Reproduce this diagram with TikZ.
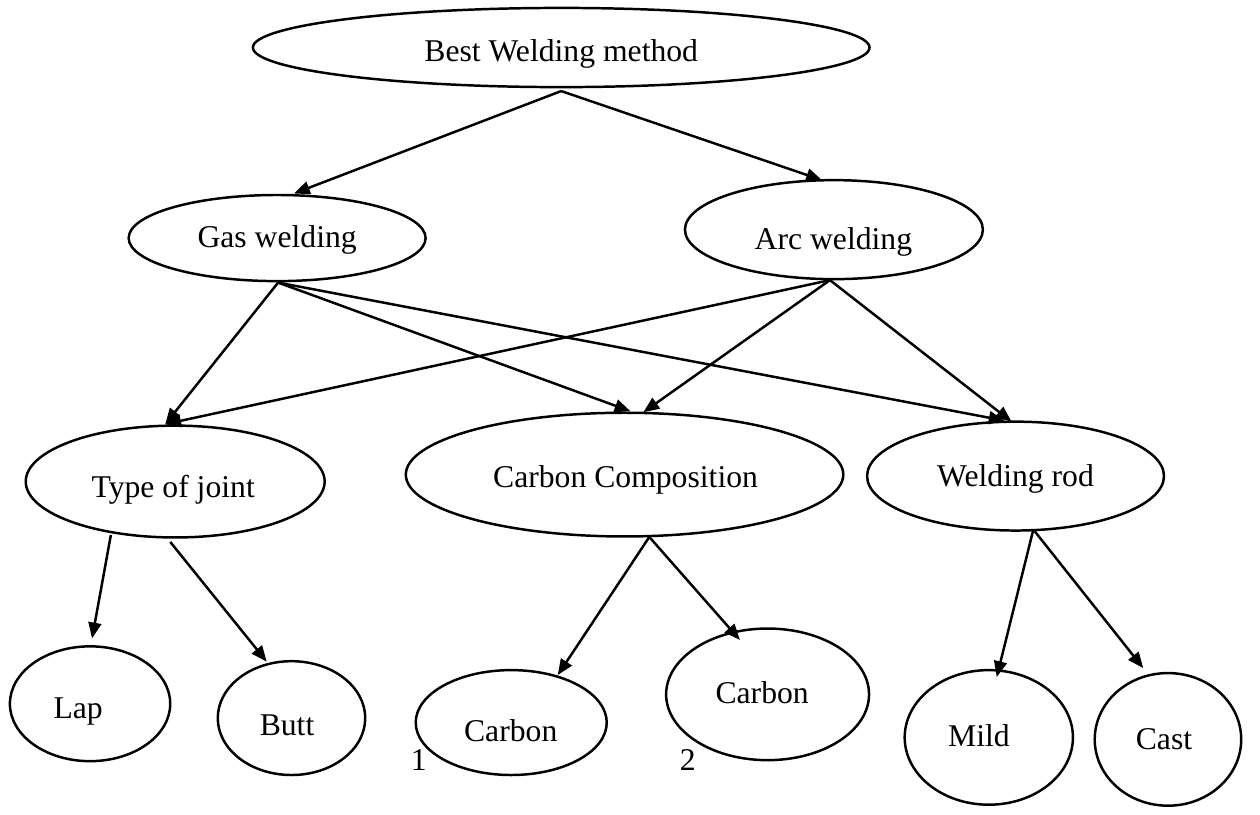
\documentclass[tikz,border=0pt]{standalone}
\usepackage{fontspec}
\setmainfont{Liberation Serif}
\usetikzlibrary{shapes.geometric,arrows.meta,calc}
\begin{document}
\begin{tikzpicture}[x=1pt,y=-1pt,
  ell/.style={draw,line width=2.5pt,ellipse,inner sep=0pt},
  lbl/.style={inner sep=0pt,anchor=base,font=\fontsize{32}{38}\selectfont},
  arr/.style={line width=2.5pt,-{Triangle[length=16pt,width=13pt]}}]
\useasboundingbox (0,0) rectangle (1273,823);
% ellipses
\node[ell,minimum width=623pt,minimum height=80pt] (top) at (567,48) {};
\node[ell,minimum width=300pt,minimum height=87pt] (gas) at (280,240.5) {};
\node[ell,minimum width=301pt,minimum height=100pt] (arc) at (842.5,232) {};
\node[ell,minimum width=302pt,minimum height=113pt] (tj) at (177,486.5) {};
\node[ell,minimum width=442pt,minimum height=125pt] (cc) at (631,479.5) {};
\node[ell,minimum width=300pt,minimum height=110pt] (wr) at (1026,481) {};
\node[ell,minimum width=162pt,minimum height=116pt] (lap) at (91,711) {};
\node[ell,minimum width=149pt,minimum height=115pt] (butt) at (294.5,725.5) {};
\node[ell,minimum width=193pt,minimum height=106pt] (c1) at (516.5,730) {};
\node[ell,minimum width=205pt,minimum height=133pt] (c2) at (775.5,701.5) {};
\node[ell,minimum width=170pt,minimum height=136pt] (mild) at (999,745) {};
\node[ell,minimum width=148pt,minimum height=134pt] (cast) at (1180,747) {};
% labels
\node[lbl] (ttop) at (567,62) {Best Welding method};
\node[lbl] (tgas) at (280,250) {Gas welding};
\node[lbl] (tarc) at (842,252) {Arc welding};
\node[lbl] (ttj) at (175,503) {Type of joint};
\node[lbl] (tcc) at (632,493) {Carbon Composition};
\node[lbl] (twr) at (1026,492) {Welding rod};
\node[lbl] (tlap) at (79,726) {Lap};
\node[lbl] (tbutt) at (290,743) {Butt};
\node[lbl] (tc1) at (516,749) {Carbon};
\node[lbl] (tc2) at (770,711) {Carbon};
\node[lbl] (tmild) at (989,754) {Mild};
\node[lbl] (tcast) at (1176,757) {Cast};
\node[lbl] (n1) at (423,778) {1};
\node[lbl] (n2) at (695,778) {2};
% arrows
\draw[arr] ($(top.center)+(0,44)$) -- ($(gas.center)+(17,-45)$);
\draw[arr] ($(top.center)+(0,44)$) -- ($(arc.center)+(-12,-50)$);
\draw[arr] ($(gas.center)+(1,45)$) -- ($(tj.center)+(-10,-58)$);
\draw[arr] ($(gas.center)+(1,45)$) -- ($(cc.center)+(6,-64)$);
\draw[arr] ($(gas.center)+(1,45)$) -- ($(wr.center)+(-11,-56)$);
\draw[arr] ($(arc.center)+(-4,51)$) -- ($(tj.center)+(-10,-58)$);
\draw[arr] ($(arc.center)+(-4,51)$) -- ($(cc.center)+(19,-63)$);
\draw[arr] ($(arc.center)+(-4,51)$) -- ($(wr.center)+(-4,-55)$);
\draw[arr] ($(tj.center)+(-65,54)$) -- ($(lap.center)+(2,-66)$);
\draw[arr] ($(tj.center)+(-5,61)$) -- ($(butt.center)+(-25,-57)$);
\draw[arr] ($(cc.center)+(25,63)$) -- ($(c1.center)+(47,-48)$);
\draw[arr] ($(cc.center)+(25,63)$) -- ($(c2.center)+(-28,-55)$);
\draw[arr] ($(wr.center)+(18,54)$) -- ($(mild.center)+(8,-61)$);
\draw[arr] ($(wr.center)+(18,54)$) -- ($(cast.center)+(-25,-72)$);
\end{tikzpicture}
\end{document}
